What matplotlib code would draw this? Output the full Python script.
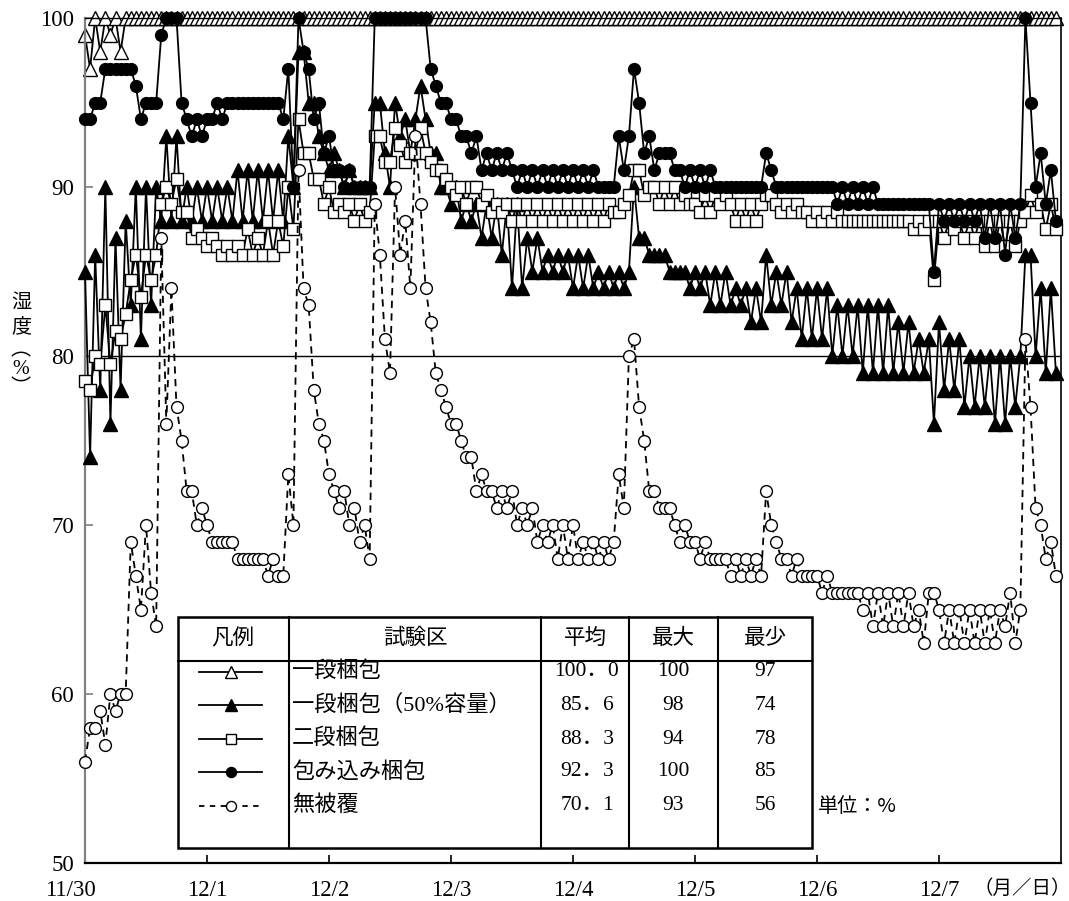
import matplotlib
matplotlib.use("Agg")
import matplotlib.pyplot as plt
from matplotlib.transforms import ScaledTranslation
import numpy as np

# ---------------- data (hourly readings, 11/30 0:00 - 12/7 23:00) ----------------
day_labels = ['11/30', '12/1', '12/2', '12/3', '12/4', '12/5', '12/6', '12/7']

one_stage = ([99, 97, 100, 98, 100, 99, 100, 98] + [100] * 16 + [100] * 24 * 7)

one_stage_50 = [
    85, 74, 86, 78, 90, 76, 87, 78, 88, 83, 90, 81, 90, 83, 90, 88, 93, 88, 93, 88, 90, 88, 90, 88,
    90, 88, 90, 88, 90, 88, 91, 88, 91, 88, 91, 88, 91, 88, 91, 88, 93, 90, 98, 98, 95, 95, 93, 92,
    91, 92, 91, 90, 91, 90, 90, 90, 90, 95, 95, 92, 90, 95, 93, 94, 92, 94, 96, 94, 92, 92, 90, 90,
    89, 90, 88, 89, 88, 89, 87, 89, 87, 89, 86, 89, 84, 89, 84, 87, 85, 87, 85, 86, 85, 86, 85, 86,
    84, 86, 84, 86, 84, 85, 84, 85, 84, 85, 84, 85, 90, 87, 87, 86, 86, 86, 86, 85, 85, 85, 85, 84,
    85, 84, 85, 83, 85, 83, 85, 83, 84, 83, 84, 82, 84, 82, 86, 83, 85, 83, 85, 82, 84, 81, 84, 81,
    84, 81, 84, 80, 83, 80, 83, 80, 83, 79, 83, 79, 83, 79, 83, 79, 82, 79, 82, 79, 81, 79, 81, 76,
    82, 78, 81, 78, 81, 77, 80, 77, 80, 77, 80, 76, 80, 76, 80, 77, 80, 86, 86, 80, 84, 79, 84, 79,
]

two_stage = [
    78.5, 78, 80, 79.5, 83, 79.5, 81.5, 81, 82.5, 84.5, 86, 83.5, 86, 84.5, 86, 89, 90, 89, 90.5, 88.5, 88.5, 87, 87.5, 87,
    86.5, 87, 86.5, 86, 86.5, 86, 86.5, 86, 87.5, 86, 87, 86, 88, 86, 88, 86.5, 90, 87.5, 94, 92, 92, 90.5, 90.5, 89,
    90, 88.5, 89, 88.5, 89, 88, 89, 88, 88.5, 93, 93, 91.5, 91.5, 93.5, 92.5, 91.5, 92, 92, 93.5, 92, 91.5, 91, 91, 90.5,
    90, 89.5, 90, 89, 90, 90, 89, 89.5, 88.5, 89, 88.5, 89, 88, 89, 88, 89, 88, 89, 88, 89, 88, 89, 88, 89,
    88, 89, 88, 89, 88, 89, 88, 89, 88.5, 88.5, 89, 89.5, 91, 91, 89.5, 90, 90, 89, 90, 89, 90, 89, 89.5, 89,
    89, 88.5, 89.5, 88.5, 89.5, 89, 89.5, 89, 88, 89, 88, 89, 88, 89, 89.5, 89.5, 89, 88.5, 89, 88.5, 89, 88.5, 88.5, 88,
    88.5, 88, 88.5, 88, 88.5, 88, 88, 88, 88, 88, 88, 88, 88, 88, 88, 88, 88, 88, 88, 87.5, 88, 87.5, 88, 84.5,
    88, 87, 88, 87.5, 88, 87, 88, 87, 88, 86.5, 88, 86.5, 88, 86.5, 88, 86.5, 88, 88.5, 89.5, 88.5, 89, 87.5, 89, 87.5,
]

wrapped = [
    94, 94, 95, 95, 97, 97, 97, 97, 97, 97, 96, 94, 95, 95, 95, 99, 100, 100, 100, 95, 94, 93, 94, 93,
    94, 94, 95, 94, 95, 95, 95, 95, 95, 95, 95, 95, 95, 95, 95, 94, 97, 90, 100, 98, 97, 94, 95, 92,
    93, 91, 91, 90, 91, 90, 90, 90, 90, 100, 100, 100, 100, 100, 100, 100, 100, 100, 100, 100, 97, 96, 95, 95,
    94, 94, 93, 93, 92, 93, 91, 92, 91, 92, 91, 92, 91, 90, 91, 90, 91, 90, 91, 90, 91, 90, 91, 90,
    91, 90, 91, 90, 91, 90, 90, 90, 90, 93, 91, 93, 97, 95, 92, 93, 91, 92, 92, 92, 91, 91, 90, 91,
    90, 91, 90, 91, 90, 90, 90, 90, 90, 90, 90, 90, 90, 90, 92, 91, 90, 90, 90, 90, 90, 90, 90, 90,
    90, 90, 90, 90, 89, 90, 89, 90, 89, 90, 89, 90, 89, 89, 89, 89, 89, 89, 89, 89, 89, 89, 89, 85,
    89, 88, 89, 88, 89, 88, 89, 88, 89, 87, 89, 87, 89, 86, 89, 87, 89, 100, 95, 90, 92, 89, 91, 88,
]

uncovered = [
    56, 58, 58, 59, 57, 60, 59, 60, 60, 69, 67, 65, 70, 66, 64, 87, 76, 84, 77, 75, 72, 72, 70, 71,
    70, 69, 69, 69, 69, 69, 68, 68, 68, 68, 68, 68, 67, 68, 67, 67, 73, 70, 91, 84, 83, 78, 76, 75,
    73, 72, 71, 72, 70, 71, 69, 70, 68, 89, 86, 81, 79, 90, 86, 88, 84, 93, 89, 84, 82, 79, 78, 77,
    76, 76, 75, 74, 74, 72, 73, 72, 72, 71, 72, 71, 72, 70, 71, 70, 71, 69, 70, 69, 70, 68, 70, 68,
    70, 68, 69, 68, 69, 68, 69, 68, 69, 73, 71, 80, 81, 77, 75, 72, 72, 71, 71, 71, 70, 69, 70, 69,
    69, 68, 69, 68, 68, 68, 68, 67, 68, 67, 68, 67, 68, 67, 72, 70, 69, 68, 68, 67, 68, 67, 67, 67,
    67, 66, 67, 66, 66, 66, 66, 66, 66, 65, 66, 64, 66, 64, 66, 64, 66, 64, 66, 64, 65, 63, 66, 66,
    65, 63, 65, 63, 65, 63, 65, 63, 65, 63, 65, 63, 65, 64, 66, 63, 65, 81, 77, 71, 70, 68, 69, 67,
]

series_names = ['一段梱包', '一段梱包（50%容量）', '二段梱包', '包み込み梱包', '無被覆']
stat_mean = ['100．0', '85．6', '88．3', '92．3', '70．1']
stat_max = ['100', '98', '94', '100', '93']
stat_min = ['97', '74', '78', '85', '56']

# ---------------- figure ----------------
W, H = 1069, 901
fig = plt.figure(figsize=(W / 100, H / 100), dpi=100)
fig.patch.set_facecolor('white')

SERIF = ['Liberation Serif', 'Noto Sans CJK JP']
CJK = ['Noto Sans CJK JP', 'DejaVu Sans']

L, R, T, B = 85, 1061, 18, 863
ax = fig.add_axes([L / W, 1 - B / H, (R - L) / W, (B - T) / H])

t = np.arange(len(uncovered)) / 24.0

styles = [
    dict(marker='^', ms=9.5, mfc='white', mec='black', mew=1.0, color='black', lw=1.3, ls='-'),
    dict(marker='^', ms=9.5, mfc='black', mec='black', mew=1.0, color='black', lw=1.3, ls='-'),
    dict(marker='s', ms=8.5, mfc='white', mec='black', mew=1.0, color='black', lw=1.3, ls='-'),
    dict(marker='o', ms=8.5, mfc='black', mec='black', mew=1.0, color='black', lw=1.3, ls='-'),
    dict(marker='o', ms=8.5, mfc='white', mec='black', mew=1.0, color='black', lw=1.3, ls=(0, (4, 3))),
]
all_series = [one_stage, one_stage_50, two_stage, wrapped, uncovered]

ax.axhline(80, color='black', lw=1.0, zorder=1)
for k, (vals, st) in enumerate(zip(all_series, styles)):
    ax.plot(t, vals, clip_on=False, zorder=2 + k, **st)

ax.set_xlim(0, 8)
ax.set_ylim(50, 100)
ax.set_xticks(range(8))
ax.set_xticklabels(day_labels, fontfamily=SERIF, fontsize=16.5)
ax.set_yticks([50, 60, 70, 80, 90, 100])
ax.set_yticklabels(['50', '60', '70', '80', '90', '100'], fontfamily=SERIF, fontsize=16.5)
ax.tick_params(axis='x', direction='in', length=6, width=1.2, pad=12)
ax.tick_params(axis='y', direction='in', length=6, width=1.2, pad=8, colors='black')
ax.tick_params(axis='y', color='#808080')

for s in ['top', 'right', 'bottom']:
    ax.spines[s].set_color('black')
ax.spines['left'].set_color('#808080')
ax.spines['left'].set_linewidth(1.6)
ax.spines['bottom'].set_linewidth(1.6)
ax.spines['right'].set_linewidth(1.2)
ax.spines['top'].set_linewidth(1.0)

# shift first x tick label a bit to the left like the reference
lbl0 = ax.get_xticklabels()[0]
lbl0.set_transform(lbl0.get_transform() + ScaledTranslation(-0.15, 0, fig.dpi_scale_trans))

# ---------------- overlay (pixel coordinates) ----------------
ov = fig.add_axes([0, 0, 1, 1], zorder=10)
ov.set_xlim(0, W)
ov.set_ylim(H, 0)
ov.axis('off')

# axis unit label and y label
ov.text(1022, 888, '（月／日）', fontfamily=CJK, fontsize=14, ha='center', va='center')
ylab = [('湿', 302), ('度', 327), ('︵', 350), ('%', 369), ('︶', 388)]
for ch, yy in ylab:
    ov.text(21, yy, ch, fontfamily=SERIF if ch == '%' else CJK, fontsize=14.5,
            ha='center', va='center')

# legend table
tx0, tx1, ty0, ty1 = 178, 812, 617, 848
ov.add_patch(plt.Rectangle((tx0, ty0), tx1 - tx0, ty1 - ty0, facecolor='white',
                           edgecolor='black', lw=1.8, zorder=1))
col_x = [289, 541, 629, 718]
for cx in col_x:
    ov.plot([cx, cx], [ty0, ty1], color='black', lw=1.5, zorder=2)
ov.plot([tx0, tx1], [661, 661], color='black', lw=1.5, zorder=2)

hy = 638
HFS = 15.5
ov.text(233, hy, '凡例', fontfamily=CJK, fontsize=HFS, ha='center', va='center', zorder=3)
ov.text(415, hy, '試験区', fontfamily=CJK, fontsize=HFS, ha='center', va='center', zorder=3)
ov.text(585, hy, '平均', fontfamily=CJK, fontsize=HFS, ha='center', va='center', zorder=3)
ov.text(673, hy, '最大', fontfamily=CJK, fontsize=HFS, ha='center', va='center', zorder=3)
ov.text(765, hy, '最少', fontfamily=CJK, fontsize=HFS, ha='center', va='center', zorder=3)

row_y = [672, 705, 739, 772, 806]
for k, yy in enumerate(row_y):
    st = dict(styles[k])
    st['ls'] = '-' if k < 4 else (0, (3, 3))
    st['ms'] = st['ms'] * 0.85
    ov.plot([199, 262], [yy, yy], zorder=3, color='black', lw=st['lw'], ls=st['ls'])
    ov.plot([230.5], [yy], zorder=4, ls='none', marker=st['marker'], ms=st['ms'],
            mfc=st['mfc'], mec=st['mec'], mew=st['mew'])
    ov.text(292, yy, series_names[k], fontfamily=SERIF, fontsize=16, ha='left', va='center', zorder=3)
    ov.text(587, yy, stat_mean[k], fontfamily=SERIF, fontsize=15.5, ha='center', va='center', zorder=3)
    ov.text(673, yy, stat_max[k], fontfamily=SERIF, fontsize=15.5, ha='center', va='center', zorder=3)
    ov.text(765, yy, stat_min[k], fontfamily=SERIF, fontsize=15.5, ha='center', va='center', zorder=3)

ov.text(818, 806, '単位：%', fontfamily=CJK, fontsize=14.5, ha='left', va='center', zorder=3)

fig.savefig('out.png', dpi=100, facecolor='white')
